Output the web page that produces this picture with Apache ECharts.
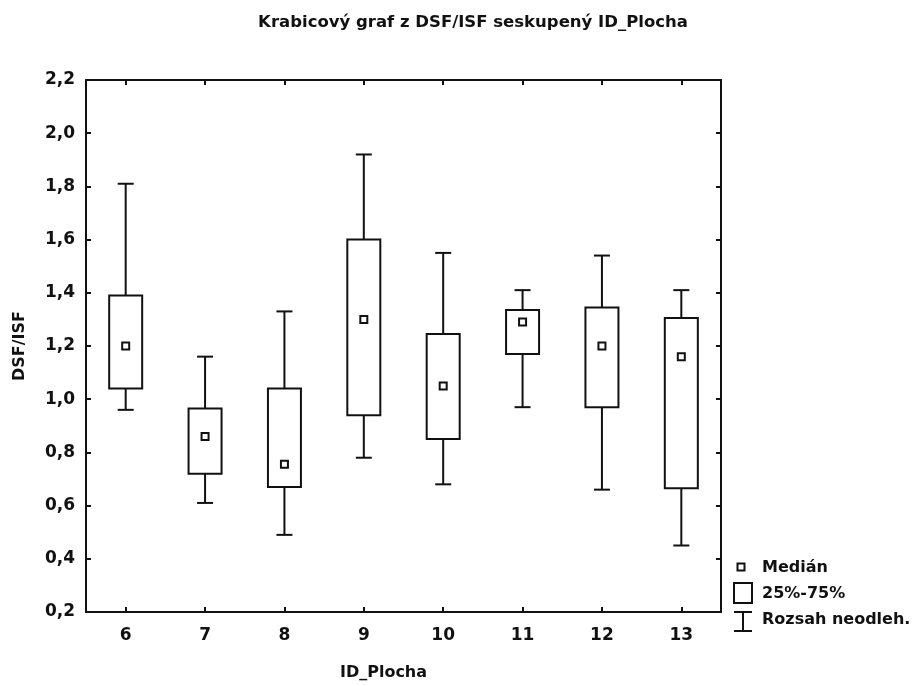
<!DOCTYPE html>
<html lang="cs">
<head>
<meta charset="UTF-8"/>
<script src="https://cdn.jsdelivr.net/npm/echarts@6/dist/echarts.min.js"></script>
<title>Krabicový graf</title>
<style>
  html, body { margin: 0; padding: 0; background: #fff; }
  #main { width: 918px; height: 686px; }
</style>
</head>
<body>
<div id="main"></div>
<script type="text/javascript">
// kategorie ID_Plocha
var categories = ['6', '7', '8', '9', '10', '11', '12', '13'];
// rozsah neodlehlých hodnot (min / max)
var whiskerLow  = [0.96, 0.61, 0.49, 0.78, 0.68, 0.97, 0.66, 0.45];
var whiskerHigh = [1.81, 1.16, 1.33, 1.92, 1.55, 1.41, 1.54, 1.41];
// kvartily 25% a 75%
var q1 = [1.04, 0.72, 0.67, 0.94, 0.85, 1.17, 0.97, 0.665];
var q3 = [1.39, 0.965, 1.04, 1.60, 1.245, 1.335, 1.345, 1.305];
// medián
var median = [1.20, 0.86, 0.755, 1.30, 1.05, 1.29, 1.20, 1.16];

var yTicks = [0.2, 2.2, 0.2]; // min, max, interval

var font = '"DejaVu Sans", Verdana, sans-serif';
var black = '#111';

var boxData = categories.map(function (c, i) {
    return [i, whiskerLow[i], q1[i], median[i], q3[i], whiskerHigh[i]];
});

function renderBox(params, api) {
    var x = api.value(0);
    var pLow = api.coord([x, api.value(1)]);
    var pQ1 = api.coord([x, api.value(2)]);
    var pMed = api.coord([x, api.value(3)]);
    var pQ3 = api.coord([x, api.value(4)]);
    var pHigh = api.coord([x, api.value(5)]);
    var cx = pMed[0];
    var boxW = 33, capW = 16, m = 7;
    var st = { stroke: black, lineWidth: 2, fill: null };
    return {
        type: 'group',
        children: [
            { type: 'line', shape: { x1: cx, y1: pQ3[1], x2: cx, y2: pHigh[1] }, style: st },
            { type: 'line', shape: { x1: cx - capW / 2, y1: pHigh[1], x2: cx + capW / 2, y2: pHigh[1] }, style: st },
            { type: 'line', shape: { x1: cx, y1: pQ1[1], x2: cx, y2: pLow[1] }, style: st },
            { type: 'line', shape: { x1: cx - capW / 2, y1: pLow[1], x2: cx + capW / 2, y2: pLow[1] }, style: st },
            { type: 'rect', shape: { x: cx - boxW / 2, y: pQ3[1], width: boxW, height: pQ1[1] - pQ3[1] },
              style: { stroke: black, lineWidth: 2, fill: '#fff' } },
            { type: 'rect', shape: { x: cx - m / 2, y: pMed[1] - m / 2, width: m, height: m },
              style: { stroke: black, lineWidth: 2, fill: '#fff' } }
        ]
    };
}

var myChart = echarts.init(document.getElementById('main'));

var axisLine = { show: true, lineStyle: { color: black, width: 2 } };
var axisTickIn = { show: true, inside: true, length: 5, lineStyle: { color: black, width: 2 } };

var option = {
    backgroundColor: '#fff',
    animation: false,
    title: {
        text: 'Krabicový graf z DSF/ISF seskupený ID_Plocha',
        left: 468,
        textAlign: 'center',
        top: 9,
        textStyle: { fontFamily: font, fontSize: 16.5, fontWeight: 'bold', color: black }
    },
    grid: { left: 86, top: 80, right: 197, bottom: 73 },
    xAxis: [{
        type: 'category',
        data: categories,
        boundaryGap: true,
        name: 'ID_Plocha',
        nameLocation: 'middle',
        nameGap: 53,
        nameTextStyle: { fontFamily: font, fontSize: 16, fontWeight: 'bold', color: black, padding: [0, 40, 0, 0] },
        axisLine: axisLine,
        axisTick: { show: true, inside: true, alignWithLabel: true, length: 5, lineStyle: { color: black, width: 2 } },
        axisLabel: { fontFamily: font, fontSize: 17, fontWeight: 'bold', color: black, margin: 15 },
        splitLine: { show: false }
    }, {
        type: 'category',
        data: categories,
        position: 'top',
        boundaryGap: true,
        axisLine: axisLine,
        axisTick: { show: true, inside: true, alignWithLabel: true, length: 5, lineStyle: { color: black, width: 2 } },
        axisLabel: { show: false },
        splitLine: { show: false }
    }],
    yAxis: [{
        type: 'value',
        min: yTicks[0],
        max: yTicks[1],
        interval: yTicks[2],
        name: 'DSF/ISF',
        nameLocation: 'middle',
        nameGap: 58,
        nameTextStyle: { fontFamily: font, fontSize: 16, fontWeight: 'bold', color: black },
        axisLine: axisLine,
        axisTick: axisTickIn,
        axisLabel: {
            fontFamily: font, fontSize: 17, fontWeight: 'bold', color: black, margin: 11,
            formatter: function (v) { return v.toFixed(1).replace('.', ','); }
        },
        splitLine: { show: false }
    }, {
        type: 'value',
        position: 'right',
        min: yTicks[0],
        max: yTicks[1],
        interval: yTicks[2],
        axisLine: axisLine,
        axisTick: axisTickIn,
        axisLabel: { show: false },
        splitLine: { show: false }
    }],
    series: [{
        type: 'custom',
        name: 'boxes',
        renderItem: renderBox,
        encode: { x: 0, y: [1, 2, 3, 4, 5] },
        data: boxData,
        z: 5
    }],
    graphic: [
        // legenda
        { type: 'rect', shape: { x: 737.5, y: 563.5, width: 7, height: 7 },
          style: { stroke: black, lineWidth: 2, fill: '#fff' } },
        { type: 'text', x: 762, y: 568,
          style: { text: 'Medián', font: 'bold 16px ' + font, fill: black, verticalAlign: 'middle' } },
        { type: 'rect', shape: { x: 734, y: 583, width: 18, height: 20 },
          style: { stroke: black, lineWidth: 2, fill: '#fff' } },
        { type: 'text', x: 762, y: 594,
          style: { text: '25%-75%', font: 'bold 16px ' + font, fill: black, verticalAlign: 'middle' } },
        { type: 'line', shape: { x1: 734, y1: 612, x2: 752, y2: 612 }, style: { stroke: black, lineWidth: 2 } },
        { type: 'line', shape: { x1: 743, y1: 612, x2: 743, y2: 631 }, style: { stroke: black, lineWidth: 2 } },
        { type: 'line', shape: { x1: 734, y1: 631, x2: 752, y2: 631 }, style: { stroke: black, lineWidth: 2 } },
        { type: 'text', x: 762, y: 620,
          style: { text: 'Rozsah neodleh.', font: 'bold 16px ' + font, fill: black, verticalAlign: 'middle' } }
    ]
};

myChart.setOption(option);
</script>
</body>
</html>
